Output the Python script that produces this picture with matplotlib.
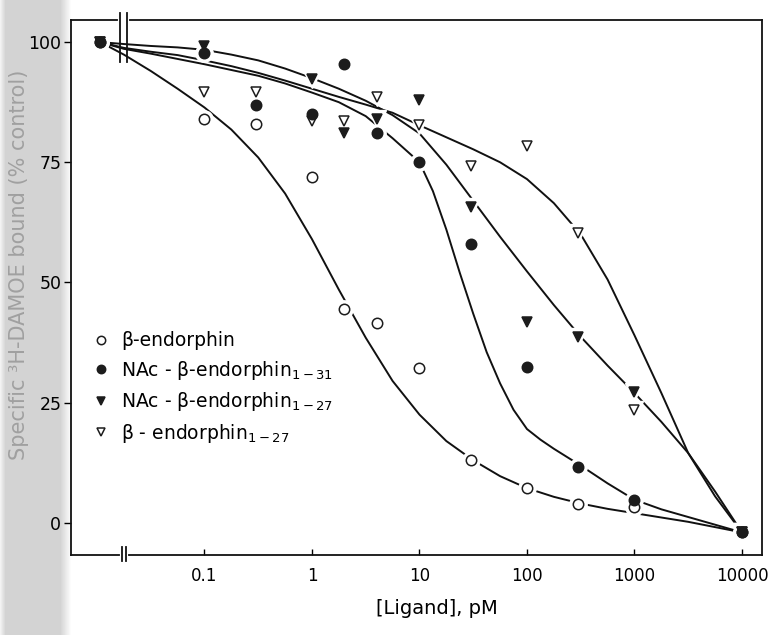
import numpy as np
import matplotlib
matplotlib.use("Agg")
import matplotlib.pyplot as plt
from matplotlib.lines import Line2D
from matplotlib.ticker import NullLocator

# concentrations (pM); first entry is the "control" point drawn left of the axis break
ctrl = 0.0107
conc = [ctrl, 0.1, 0.3, 1, 2, 4, 10, 30, 100, 300, 1000, 10000]

# measured points (% control)
bend = [100, 84, 83, 72, 44.5, 41.5, 32.3, 13, 7.2, 4, 3.3, -2]
nac31 = [100, 97.7, 87, 85, 95.4, 81, 75, 58, 32.5, 11.7, 4.8, -2]
conc_nac27 = [ctrl, 0.1, 1, 2, 4, 10, 30, 100, 300, 1000, 10000]
nac27 = [100, 99.2, 92.3, 81, 84, 88, 65.8, 41.7, 38.6, 27.3, -2]
bend27 = [100, 89.6, 89.6, 83.5, 83.5, 88.5, 82.7, 74.2, 78.3, 60.2, 23.5, -2]

# fitted curves (log10 pM, % control)
fit_logx = [-1.97, -1.75, -1.5, -1.25, -1.0, -0.75, -0.5, -0.25, 0, 0.25, 0.5, 0.75,
            1.0, 1.25, 1.5, 1.75, 2.0, 2.25, 2.5, 2.75, 3.0, 3.25, 3.5, 3.75, 4.0]
fit_bend = [100, 97.4, 94, 90.3, 86.4, 81.8, 76, 68.5, 59, 48.5, 38.5, 29.5,
            22.5, 17, 13, 9.7, 7.2, 5.4, 4.0, 2.9, 2.0, 1.1, 0.2, -0.9, -2]
fit_nac27 = [100, 99.6, 99.2, 98.9, 98.4, 97.4, 96.2, 94.5, 92.5, 90.3, 87.8, 84.8,
             81, 74.5, 67, 59.5, 52.3, 45.3, 38.7, 32.7, 27, 21, 14.5, 6.5, -2]
fit_bend27 = [100, 98.8, 98, 97.3, 96.2, 95, 93.6, 92, 90.3, 88.6, 87, 85.3,
              82.7, 80.2, 77.7, 75, 71.5, 66.5, 60, 50.6, 39, 27, 14.5, 5.5, -2]
fit31_logx = [-1.97, -1.75, -1.5, -1.25, -1.0, -0.75, -0.5, -0.25, 0, 0.25, 0.5, 0.75,
              1.0, 1.125, 1.25, 1.375, 1.5, 1.625, 1.75, 1.875, 2.0, 2.125, 2.25,
              2.5, 2.75, 3.0, 3.25, 3.5, 3.75, 4.0]
fit_nac31 = [100, 98.6, 97.6, 96.5, 95.4, 94.2, 93, 91.4, 89.5, 87.5, 84.6, 80,
             75, 69, 61, 52, 43.5, 35.5, 29, 23.5, 19.5, 17.3, 15.4,
             11.9, 8.2, 4.8, 2.8, 1.2, -0.4, -2]

xticks = [0.1, 1, 10, 100, 1000, 10000]
xticklabels = ["0.1", "1", "10", "100", "1000", "10000"]
yticks = [0, 25, 50, 75, 100]

labels = ["β-endorphin",
          r"NAc - β-endorphin$_{1-31}$",
          r"NAc - β-endorphin$_{1-27}$",
          r"β - endorphin$_{1-27}$"]

fig = plt.figure(figsize=(7.75, 6.35), dpi=100)

# grey page shadow at the left edge of the scan
bg = fig.add_axes([0, 0, 1, 1], zorder=-5)
grad = np.ones((2, 775))
grad[:, 6:60] = 0.83
grad[:, 60:72] = np.linspace(0.83, 1.0, 12)
grad[:, 0:6] = np.linspace(0.95, 0.83, 6)
bg.imshow(grad, cmap="gray", vmin=0, vmax=1, aspect="auto", extent=[0, 1, 0, 1])
bg.axis("off")

ax = fig.add_axes([0.0916, 0.126, 0.8916, 0.8425])
ax.set_xscale("log")
ax.set_xlim(0.00573, 15350)
ax.set_ylim(-6.7, 104.6)

lw = 1.4
for lx, ly in [(fit_logx, fit_bend), (fit_logx, fit_nac27),
               (fit_logx, fit_bend27), (fit31_logx, fit_nac31)]:
    ax.plot(10 ** np.array(lx), ly, color="#111111", lw=lw, zorder=2,
            solid_joinstyle="round")

dark = "#1c1c1c"
series = [
    (conc, bend, "o", "white", 7.5),
    (conc, bend27, "v", "white", 7.5),
    (conc_nac27, nac27, "v", dark, 7.5),
    (conc, nac31, "o", dark, 7.5),
]
# white halos give the gaps in the lines around each marker
for x, y, m, fc, ms in series:
    ax.plot(x, y, ls="none", marker=m, ms=ms + 5, mfc="white", mec="white", zorder=3)
for i, (x, y, m, fc, ms) in enumerate(series):
    ax.plot(x, y, ls="none", marker=m, ms=ms, mfc=fc, mec=dark, mew=1.1, zorder=4 + i)

ax.set_xticks(xticks)
ax.set_xticklabels(xticklabels)
ax.xaxis.set_minor_locator(NullLocator())
ax.set_yticks(yticks)
ax.tick_params(axis="x", direction="in", length=4, pad=9, labelsize=12, width=1)
ax.tick_params(axis="y", direction="out", length=5, pad=2, labelsize=12.5, width=1)
for s in ax.spines.values():
    s.set_linewidth(1.3)
    s.set_color("#111111")

# axis breaks
tr = ax.get_xaxis_transform()
xb1, xb2 = 10 ** -1.786, 10 ** -1.721
ax.plot([xb1, xb2], [1, 1], color="white", lw=3, transform=tr, clip_on=False, zorder=10)
for xb in (xb1, xb2):
    ax.plot([xb, xb], [0.921, 1.013], color="#111111", lw=1.3, transform=tr,
            clip_on=False, zorder=11)
xb3, xb4 = 10 ** -1.767, 10 ** -1.730
ax.plot([xb3, xb4], [0, 0], color="white", lw=3, transform=tr, clip_on=False, zorder=10)
for xb in (xb3, xb4):
    ax.plot([xb, xb], [-0.012, 0.015], color="#111111", lw=1.3, transform=tr,
            clip_on=False, zorder=11)

handles = [Line2D([], [], ls="none", marker=m, ms=ms - 1.5, mfc=fc, mec=dark, mew=1.1)
           for _, _, m, fc, ms in [series[0], series[3], series[2], series[1]]]
ax.legend(handles, labels, loc="upper left", bbox_to_anchor=(0.03, 0.418),
          frameon=False, fontsize=13.5, handlelength=1.0, handletextpad=0.55,
          labelspacing=0.45, borderaxespad=0, borderpad=0)

fig.text(0.564, 0.042, "[Ligand], pM", fontsize=14, ha="center", va="center")
fig.text(0.024, 0.583, "Specific ³H-DAMOE bound (% control)", rotation=90,
         fontsize=15, color="#a0a0a0", ha="center", va="center")

fig.savefig("out.png", dpi=100)
